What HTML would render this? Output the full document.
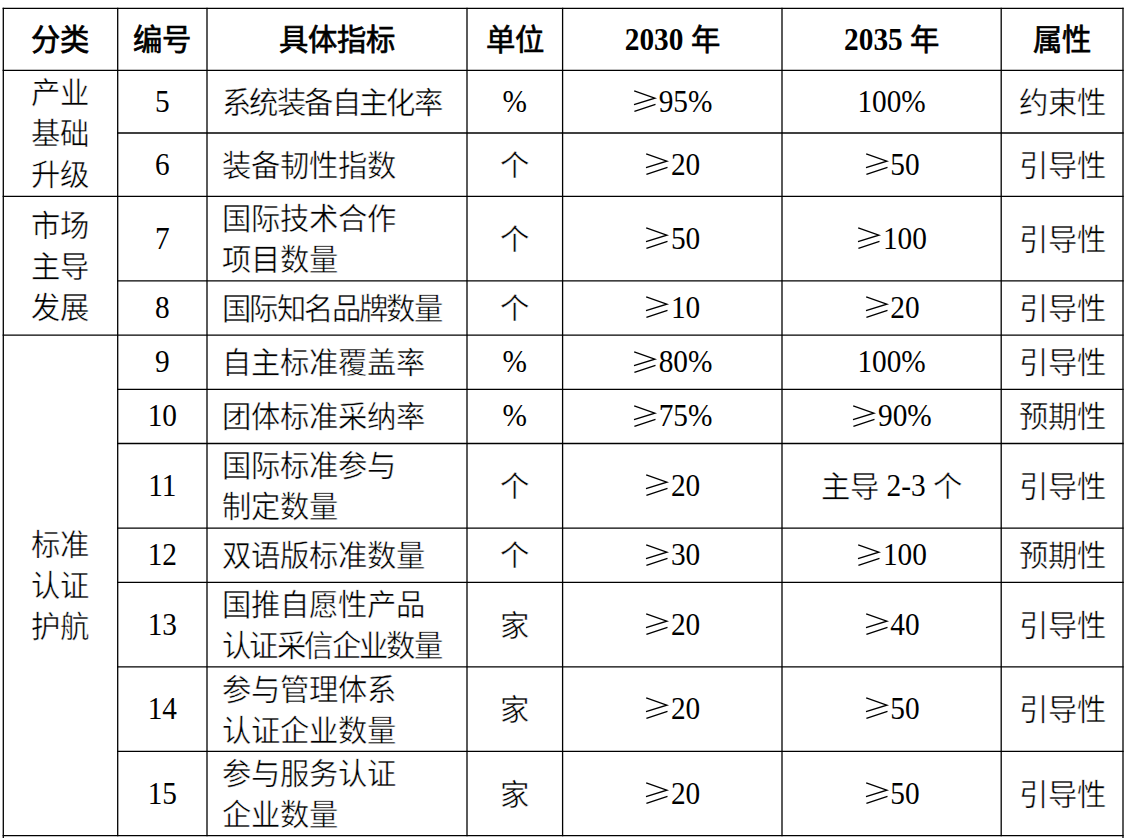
<!DOCTYPE html>
<html lang="zh-CN"><head><meta charset="utf-8">
<style>
html,body{margin:0;padding:0;background:#fff;width:1128px;height:838px;overflow:hidden;}
#w{position:relative;width:1128px;height:838px;}
svg.g{position:absolute;left:0;top:0;}
svg.g line{stroke:#000;stroke-width:1.3;}
.c{position:absolute;display:flex;align-items:center;justify-content:center;text-align:center;color:#000;font-family:"Liberation Serif",serif;}
.c p{margin:0;font-size:29.33px;line-height:41px;white-space:nowrap;position:relative;}
.b p{top:1.5px;}
.h p{top:1.5px;font-weight:bold;}
.k{font-size:29.33px;line-height:0;}
.l{font-size:29.33px;display:inline-block;line-height:normal;transform:translateY(-0.7px) scaleY(1.07);transform-origin:50% 26.1px;}
.h .k{letter-spacing:0px;}
.h .l{transform:translateY(0px) scaleY(1.07);}
.left{justify-content:flex-start;}
.cmp .k{letter-spacing:-1.6px;}
.left p{text-align:left;padding-left:15px;}
.b .k{-webkit-text-stroke:0.45px #fff;}
.h .k{font-weight:400;-webkit-text-stroke:0.7px #000;}
svg.ge{vertical-align:-0.3px;overflow:visible;}
svg.ge path{fill:none;stroke:#000;stroke-width:1.4;}
</style></head><body><div id="w">
<svg class="g" width="1128" height="838" viewBox="0 0 1128 838"><line x1="2.65" y1="8.35" x2="1123.65" y2="8.35"/><line x1="2.65" y1="70.40" x2="1123.65" y2="70.40"/><line x1="117.05" y1="133.00" x2="1123.65" y2="133.00"/><line x1="2.65" y1="196.40" x2="1123.65" y2="196.40"/><line x1="117.05" y1="280.90" x2="1123.65" y2="280.90"/><line x1="2.65" y1="335.10" x2="1123.65" y2="335.10"/><line x1="117.05" y1="389.40" x2="1123.65" y2="389.40"/><line x1="117.05" y1="443.50" x2="1123.65" y2="443.50"/><line x1="117.05" y1="528.10" x2="1123.65" y2="528.10"/><line x1="117.05" y1="582.40" x2="1123.65" y2="582.40"/><line x1="117.05" y1="666.80" x2="1123.65" y2="666.80"/><line x1="117.05" y1="751.40" x2="1123.65" y2="751.40"/><line x1="2.65" y1="835.70" x2="1123.65" y2="835.70"/><line x1="3.30" y1="7.70" x2="3.30" y2="845.65"/><line x1="117.70" y1="7.70" x2="117.70" y2="836.35"/><line x1="207.00" y1="7.70" x2="207.00" y2="836.35"/><line x1="467.00" y1="7.70" x2="467.00" y2="836.35"/><line x1="562.60" y1="7.70" x2="562.60" y2="836.35"/><line x1="782.00" y1="7.70" x2="782.00" y2="836.35"/><line x1="1001.20" y1="7.70" x2="1001.20" y2="836.35"/><line x1="1123.00" y1="7.70" x2="1123.00" y2="845.65"/></svg>
<div class="c h" style="left:3.3px;top:8.3px;width:114.4px;height:62.1px"><p><span class="k">分类</span></p></div>
<div class="c h" style="left:117.7px;top:8.3px;width:89.3px;height:62.1px"><p><span class="k">编号</span></p></div>
<div class="c h" style="left:207.0px;top:8.3px;width:260.0px;height:62.1px"><p><span class="k">具体指标</span></p></div>
<div class="c h" style="left:467.0px;top:8.3px;width:95.6px;height:62.1px"><p><span class="k">单位</span></p></div>
<div class="c h" style="left:562.6px;top:8.3px;width:219.4px;height:62.1px"><p><span class="l">2030</span> <span class="k">年</span></p></div>
<div class="c h" style="left:782.0px;top:8.3px;width:219.2px;height:62.1px"><p><span class="l">2035</span> <span class="k">年</span></p></div>
<div class="c h" style="left:1001.2px;top:8.3px;width:121.8px;height:62.1px"><p><span class="k">属性</span></p></div>
<div class="c b" style="left:3.3px;top:70.4px;width:114.4px;height:126.0px"><p><span class="k">产业</span><br><span class="k">基础</span><br><span class="k">升级</span></p></div>
<div class="c b" style="left:3.3px;top:196.4px;width:114.4px;height:138.7px"><p><span class="k">市场</span><br><span class="k">主导</span><br><span class="k">发展</span></p></div>
<div class="c b" style="left:3.3px;top:335.1px;width:114.4px;height:500.6px"><p><span class="k">标准</span><br><span class="k">认证</span><br><span class="k">护航</span></p></div>
<div class="c b" style="left:117.7px;top:70.4px;width:89.3px;height:62.6px"><p><span class="l">5</span></p></div>
<div class="c b left" style="left:207.0px;top:70.4px;width:260.0px;height:62.6px"><p><span class="cmp"><span class="l"></span><span class="k">系统装备自主化率</span></span></p></div>
<div class="c b" style="left:467.0px;top:70.4px;width:95.6px;height:62.6px"><p><span class="l">%</span></p></div>
<div class="c b" style="left:562.6px;top:70.4px;width:219.4px;height:62.6px"><p><svg class="ge" width="26.6" height="24" viewBox="0 0 26.6 24"><path d="M2.2 1.8L22.8 9.2L2 15.6M2.4 22.4L23.5 15.3"/></svg><span class="l">95%</span></p></div>
<div class="c b" style="left:782.0px;top:70.4px;width:219.2px;height:62.6px"><p><span class="l">100%</span></p></div>
<div class="c b" style="left:1001.2px;top:70.4px;width:121.8px;height:62.6px"><p><span class="k">约束性</span></p></div>
<div class="c b" style="left:117.7px;top:133.0px;width:89.3px;height:63.4px"><p><span class="l">6</span></p></div>
<div class="c b left" style="left:207.0px;top:133.0px;width:260.0px;height:63.4px"><p><span class="k">装备韧性指数</span></p></div>
<div class="c b" style="left:467.0px;top:133.0px;width:95.6px;height:63.4px"><p><span class="k">个</span></p></div>
<div class="c b" style="left:562.6px;top:133.0px;width:219.4px;height:63.4px"><p><svg class="ge" width="26.6" height="24" viewBox="0 0 26.6 24"><path d="M2.2 1.8L22.8 9.2L2 15.6M2.4 22.4L23.5 15.3"/></svg><span class="l">20</span></p></div>
<div class="c b" style="left:782.0px;top:133.0px;width:219.2px;height:63.4px"><p><svg class="ge" width="26.6" height="24" viewBox="0 0 26.6 24"><path d="M2.2 1.8L22.8 9.2L2 15.6M2.4 22.4L23.5 15.3"/></svg><span class="l">50</span></p></div>
<div class="c b" style="left:1001.2px;top:133.0px;width:121.8px;height:63.4px"><p><span class="k">引导性</span></p></div>
<div class="c b" style="left:117.7px;top:196.4px;width:89.3px;height:84.5px"><p><span class="l">7</span></p></div>
<div class="c b left" style="left:207.0px;top:196.4px;width:260.0px;height:84.5px"><p><span class="k">国际技术合作</span><br><span class="k">项目数量</span></p></div>
<div class="c b" style="left:467.0px;top:196.4px;width:95.6px;height:84.5px"><p><span class="k">个</span></p></div>
<div class="c b" style="left:562.6px;top:196.4px;width:219.4px;height:84.5px"><p><svg class="ge" width="26.6" height="24" viewBox="0 0 26.6 24"><path d="M2.2 1.8L22.8 9.2L2 15.6M2.4 22.4L23.5 15.3"/></svg><span class="l">50</span></p></div>
<div class="c b" style="left:782.0px;top:196.4px;width:219.2px;height:84.5px"><p><svg class="ge" width="26.6" height="24" viewBox="0 0 26.6 24"><path d="M2.2 1.8L22.8 9.2L2 15.6M2.4 22.4L23.5 15.3"/></svg><span class="l">100</span></p></div>
<div class="c b" style="left:1001.2px;top:196.4px;width:121.8px;height:84.5px"><p><span class="k">引导性</span></p></div>
<div class="c b" style="left:117.7px;top:280.9px;width:89.3px;height:54.2px"><p><span class="l">8</span></p></div>
<div class="c b left" style="left:207.0px;top:280.9px;width:260.0px;height:54.2px"><p><span class="cmp"><span class="l"></span><span class="k">国际知名品牌数量</span></span></p></div>
<div class="c b" style="left:467.0px;top:280.9px;width:95.6px;height:54.2px"><p><span class="k">个</span></p></div>
<div class="c b" style="left:562.6px;top:280.9px;width:219.4px;height:54.2px"><p><svg class="ge" width="26.6" height="24" viewBox="0 0 26.6 24"><path d="M2.2 1.8L22.8 9.2L2 15.6M2.4 22.4L23.5 15.3"/></svg><span class="l">10</span></p></div>
<div class="c b" style="left:782.0px;top:280.9px;width:219.2px;height:54.2px"><p><svg class="ge" width="26.6" height="24" viewBox="0 0 26.6 24"><path d="M2.2 1.8L22.8 9.2L2 15.6M2.4 22.4L23.5 15.3"/></svg><span class="l">20</span></p></div>
<div class="c b" style="left:1001.2px;top:280.9px;width:121.8px;height:54.2px"><p><span class="k">引导性</span></p></div>
<div class="c b" style="left:117.7px;top:335.1px;width:89.3px;height:54.3px"><p><span class="l">9</span></p></div>
<div class="c b left" style="left:207.0px;top:335.1px;width:260.0px;height:54.3px"><p><span class="k">自主标准覆盖率</span></p></div>
<div class="c b" style="left:467.0px;top:335.1px;width:95.6px;height:54.3px"><p><span class="l">%</span></p></div>
<div class="c b" style="left:562.6px;top:335.1px;width:219.4px;height:54.3px"><p><svg class="ge" width="26.6" height="24" viewBox="0 0 26.6 24"><path d="M2.2 1.8L22.8 9.2L2 15.6M2.4 22.4L23.5 15.3"/></svg><span class="l">80%</span></p></div>
<div class="c b" style="left:782.0px;top:335.1px;width:219.2px;height:54.3px"><p><span class="l">100%</span></p></div>
<div class="c b" style="left:1001.2px;top:335.1px;width:121.8px;height:54.3px"><p><span class="k">引导性</span></p></div>
<div class="c b" style="left:117.7px;top:389.4px;width:89.3px;height:54.1px"><p><span class="l">10</span></p></div>
<div class="c b left" style="left:207.0px;top:389.4px;width:260.0px;height:54.1px"><p><span class="k">团体标准采纳率</span></p></div>
<div class="c b" style="left:467.0px;top:389.4px;width:95.6px;height:54.1px"><p><span class="l">%</span></p></div>
<div class="c b" style="left:562.6px;top:389.4px;width:219.4px;height:54.1px"><p><svg class="ge" width="26.6" height="24" viewBox="0 0 26.6 24"><path d="M2.2 1.8L22.8 9.2L2 15.6M2.4 22.4L23.5 15.3"/></svg><span class="l">75%</span></p></div>
<div class="c b" style="left:782.0px;top:389.4px;width:219.2px;height:54.1px"><p><svg class="ge" width="26.6" height="24" viewBox="0 0 26.6 24"><path d="M2.2 1.8L22.8 9.2L2 15.6M2.4 22.4L23.5 15.3"/></svg><span class="l">90%</span></p></div>
<div class="c b" style="left:1001.2px;top:389.4px;width:121.8px;height:54.1px"><p><span class="k">预期性</span></p></div>
<div class="c b" style="left:117.7px;top:443.5px;width:89.3px;height:84.6px"><p><span class="l">11</span></p></div>
<div class="c b left" style="left:207.0px;top:443.5px;width:260.0px;height:84.6px"><p><span class="k">国际标准参与</span><br><span class="k">制定数量</span></p></div>
<div class="c b" style="left:467.0px;top:443.5px;width:95.6px;height:84.6px"><p><span class="k">个</span></p></div>
<div class="c b" style="left:562.6px;top:443.5px;width:219.4px;height:84.6px"><p><svg class="ge" width="26.6" height="24" viewBox="0 0 26.6 24"><path d="M2.2 1.8L22.8 9.2L2 15.6M2.4 22.4L23.5 15.3"/></svg><span class="l">20</span></p></div>
<div class="c b" style="left:782.0px;top:443.5px;width:219.2px;height:84.6px"><p><span class="k">主导</span> <span class="l">2-3</span> <span class="k">个</span></p></div>
<div class="c b" style="left:1001.2px;top:443.5px;width:121.8px;height:84.6px"><p><span class="k">引导性</span></p></div>
<div class="c b" style="left:117.7px;top:528.1px;width:89.3px;height:54.3px"><p><span class="l">12</span></p></div>
<div class="c b left" style="left:207.0px;top:528.1px;width:260.0px;height:54.3px"><p><span class="k">双语版标准数量</span></p></div>
<div class="c b" style="left:467.0px;top:528.1px;width:95.6px;height:54.3px"><p><span class="k">个</span></p></div>
<div class="c b" style="left:562.6px;top:528.1px;width:219.4px;height:54.3px"><p><svg class="ge" width="26.6" height="24" viewBox="0 0 26.6 24"><path d="M2.2 1.8L22.8 9.2L2 15.6M2.4 22.4L23.5 15.3"/></svg><span class="l">30</span></p></div>
<div class="c b" style="left:782.0px;top:528.1px;width:219.2px;height:54.3px"><p><svg class="ge" width="26.6" height="24" viewBox="0 0 26.6 24"><path d="M2.2 1.8L22.8 9.2L2 15.6M2.4 22.4L23.5 15.3"/></svg><span class="l">100</span></p></div>
<div class="c b" style="left:1001.2px;top:528.1px;width:121.8px;height:54.3px"><p><span class="k">预期性</span></p></div>
<div class="c b" style="left:117.7px;top:582.4px;width:89.3px;height:84.4px"><p><span class="l">13</span></p></div>
<div class="c b left" style="left:207.0px;top:582.4px;width:260.0px;height:84.4px"><p><span class="k">国推自愿性产品</span><br><span class="cmp"><span class="l"></span><span class="k">认证采信企业数量</span></span></p></div>
<div class="c b" style="left:467.0px;top:582.4px;width:95.6px;height:84.4px"><p><span class="k">家</span></p></div>
<div class="c b" style="left:562.6px;top:582.4px;width:219.4px;height:84.4px"><p><svg class="ge" width="26.6" height="24" viewBox="0 0 26.6 24"><path d="M2.2 1.8L22.8 9.2L2 15.6M2.4 22.4L23.5 15.3"/></svg><span class="l">20</span></p></div>
<div class="c b" style="left:782.0px;top:582.4px;width:219.2px;height:84.4px"><p><svg class="ge" width="26.6" height="24" viewBox="0 0 26.6 24"><path d="M2.2 1.8L22.8 9.2L2 15.6M2.4 22.4L23.5 15.3"/></svg><span class="l">40</span></p></div>
<div class="c b" style="left:1001.2px;top:582.4px;width:121.8px;height:84.4px"><p><span class="k">引导性</span></p></div>
<div class="c b" style="left:117.7px;top:666.8px;width:89.3px;height:84.6px"><p><span class="l">14</span></p></div>
<div class="c b left" style="left:207.0px;top:666.8px;width:260.0px;height:84.6px"><p><span class="k">参与管理体系</span><br><span class="k">认证企业数量</span></p></div>
<div class="c b" style="left:467.0px;top:666.8px;width:95.6px;height:84.6px"><p><span class="k">家</span></p></div>
<div class="c b" style="left:562.6px;top:666.8px;width:219.4px;height:84.6px"><p><svg class="ge" width="26.6" height="24" viewBox="0 0 26.6 24"><path d="M2.2 1.8L22.8 9.2L2 15.6M2.4 22.4L23.5 15.3"/></svg><span class="l">20</span></p></div>
<div class="c b" style="left:782.0px;top:666.8px;width:219.2px;height:84.6px"><p><svg class="ge" width="26.6" height="24" viewBox="0 0 26.6 24"><path d="M2.2 1.8L22.8 9.2L2 15.6M2.4 22.4L23.5 15.3"/></svg><span class="l">50</span></p></div>
<div class="c b" style="left:1001.2px;top:666.8px;width:121.8px;height:84.6px"><p><span class="k">引导性</span></p></div>
<div class="c b" style="left:117.7px;top:751.4px;width:89.3px;height:84.3px"><p><span class="l">15</span></p></div>
<div class="c b left" style="left:207.0px;top:751.4px;width:260.0px;height:84.3px"><p><span class="k">参与服务认证</span><br><span class="k">企业数量</span></p></div>
<div class="c b" style="left:467.0px;top:751.4px;width:95.6px;height:84.3px"><p><span class="k">家</span></p></div>
<div class="c b" style="left:562.6px;top:751.4px;width:219.4px;height:84.3px"><p><svg class="ge" width="26.6" height="24" viewBox="0 0 26.6 24"><path d="M2.2 1.8L22.8 9.2L2 15.6M2.4 22.4L23.5 15.3"/></svg><span class="l">20</span></p></div>
<div class="c b" style="left:782.0px;top:751.4px;width:219.2px;height:84.3px"><p><svg class="ge" width="26.6" height="24" viewBox="0 0 26.6 24"><path d="M2.2 1.8L22.8 9.2L2 15.6M2.4 22.4L23.5 15.3"/></svg><span class="l">50</span></p></div>
<div class="c b" style="left:1001.2px;top:751.4px;width:121.8px;height:84.3px"><p><span class="k">引导性</span></p></div>
</div></body></html>
